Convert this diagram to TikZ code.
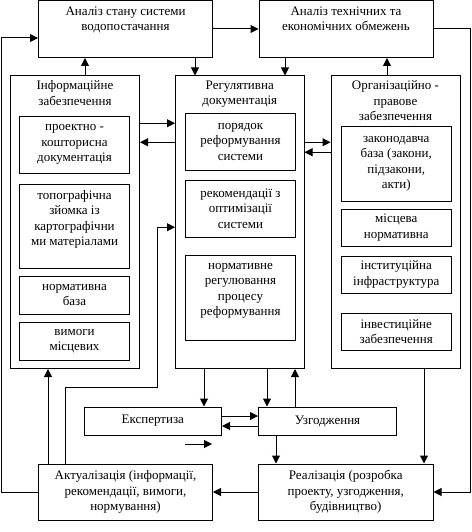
\documentclass[tikz,border=0pt]{standalone}
\usepackage{fontspec}
\setmainfont{Liberation Serif}
\usepackage{tikz}
\usetikzlibrary{arrows.meta, positioning, calc}

\tikzset{
  mainbox/.style={draw, line width=1pt, align=center, minimum width=174pt, minimum height=57pt, inner sep=0pt},
  outerbox/.style={draw, line width=1pt, minimum width=129pt, minimum height=292.5pt, inner sep=0pt},
  innerbox/.style={draw, line width=1pt, align=center, minimum width=110pt, inner sep=0pt},
  titletext/.style={anchor=north, align=center, inner sep=0pt},
  arr/.style={line width=1pt, -{Triangle[length=8pt,width=8pt]}}
}

\begin{document}
\begin{tikzpicture}[x=1pt,y=-1pt, font=\fontsize{13}{15.5}\selectfont]
  \path[use as bounding box] (0,0) rectangle (471,532);

  % top row
  \node[mainbox] (stan) at (125.5,29) {Аналіз стану системи\\водопостачання\\\strut};
  \node[mainbox] (tekh) at (346,29) {Аналіз технічних та\\економічних обмежень\\\strut};

  % Informatsiine zabezpechennia
  \node[outerbox] (info) at (75,222.25) {};
  \node[titletext, below=5pt of info.north] (infot) {Інформаційне\\забезпечення};
  \node[innerbox, minimum height=56.5pt] (inf1) at (74.5,144.75) {проектно -\\кошторисна\\документація};
  \node[innerbox, minimum height=84pt] (inf2) at (74.5,226) {топографічна\\зйомка із\\картографічни\\ми матеріалами\\[-4pt]\strut};
  \node[innerbox, minimum height=38pt] (inf3) at (74.5,295) {нормативна\\база};
  \node[innerbox, minimum height=38pt] (inf4) at (74.5,341) {вимоги\\місцевих};

  % Reguliatyvna dokumentatsiia
  \node[outerbox, minimum width=128.5pt] (reg) at (239.75,222.25) {};
  \node[titletext, below=5pt of reg.north] (regt) {Регулятивна\\документація};
  \node[innerbox, minimum height=56.5pt] (reg1) at (240.5,141.75) {порядок\\реформування\\системи};
  \node[innerbox, minimum height=57pt] (reg2) at (240.5,208.5) {рекомендації з\\оптимізації\\системи};
  \node[innerbox, minimum height=84.5pt] (reg3) at (240.5,297.75) {нормативне\\регулювання\\процесу\\реформування\\[-4pt]\strut};

  % Orhanizatsiino-pravove zabezpechennia
  \node[outerbox] (org) at (395.5,222.25) {};
  \node[titletext, below=5pt of org.north] (orgt) {Організаційно -\\правове\\забезпечення};
  \node[innerbox, minimum width=109.5pt, minimum height=75.5pt] (org1) at (396.25,163.75) {законодавча\\база (закони,\\підзакони,\\акти)};
  \node[innerbox, minimum width=109.5pt, minimum height=37pt] (org2) at (396.25,227.5) {місцева\\нормативна};
  \node[innerbox, minimum width=109.5pt, minimum height=37pt] (org3) at (396.25,274.5) {інституційна\\інфраструктура};
  \node[innerbox, minimum width=109.5pt, minimum height=37pt] (org4) at (396.25,331.5) {інвестиційне\\забезпечення};

  % bottom part
  \node[mainbox, minimum width=137.5pt, minimum height=28pt] (exp) at (152.75,421) {Експертиза};
  \node[mainbox, minimum width=138pt, minimum height=28pt] (uzg) at (327.5,421) {Узгодження};
  \node[mainbox, minimum height=56pt] (akt) at (125.5,492) {Актуалізація (інформації,\\рекомендації, вимоги,\\нормування)};
  \node[mainbox, minimum width=174.5pt, minimum height=56pt] (real) at (345.75,492) {Реалізація (розробка\\проекту, узгодження,\\будівництво)};
  \coordinate (loosea) at (185,444);
  \coordinate (looseb) at (212,444);

  % connectors
  \draw[arr] (stan.east) -- (tekh.west);
  \draw[arr] (akt.west) -- ++(-36.5,0) |- ([yshift=-9pt]stan.west);
  \draw[arr] ([xshift=10pt]info.north) -- ([xshift=10pt]info.north |- stan.south);
  \draw[arr] ([xshift=69.5pt]stan.south) -- ([xshift=69.5pt]stan.south |- reg.north);
  \draw[arr] ([xshift=-61pt]tekh.south) -- ([xshift=-61pt]tekh.south |- reg.north);
  \draw[arr] ([xshift=-8.5pt]org.north) -- ([xshift=-8.5pt]org.north |- tekh.south);
  \draw[arr] (tekh.east) -- ++(37,0) |- (real.east);

  \draw[arr] ([yshift=99pt]info.east) -- ([yshift=99pt]info.east -| reg.west);
  \draw[arr] ([yshift=80pt]reg.west) -- ([yshift=80pt]reg.west -| info.east);
  \draw[arr] ([yshift=80pt]reg.east) -- ([yshift=80pt]reg.east -| org.west);
  \draw[arr] ([yshift=70pt]org.west) -- ([yshift=70pt]org.west -| reg.east);

  \draw[arr] ([xshift=-60.5pt]akt.north) -- ++(0,-76) -- ++(92,0) |- ([yshift=-5pt]reg.west);
  \draw[arr] ([xshift=-77.5pt]akt.north) -- ([xshift=-77.5pt]akt.north |- info.south);

  \draw[arr] ([xshift=-35.75pt]reg.south) -- ([xshift=-35.75pt]reg.south |- exp.north);
  \draw[arr] ([xshift=27.25pt]reg.south) -- ([xshift=27.25pt]reg.south |- uzg.north);
  \draw[arr] ([xshift=-32.5pt]uzg.north) -- ([xshift=-32.5pt]uzg.north |- reg.south);
  \draw[arr] ([yshift=5pt]exp.east) -- ([yshift=5pt]exp.east -| uzg.west);
  \draw[arr] ([yshift=-5pt]uzg.west) -- ([yshift=-5pt]uzg.west -| exp.east);
  \draw[arr] (loosea) -- (looseb);

  \draw[arr] ([xshift=-51.5pt]uzg.south) -- ([xshift=-51.5pt]uzg.south |- real.north);
  \draw[arr] ([xshift=28.5pt]org.south) -- ([xshift=28.5pt]org.south |- real.north);
  \draw[arr] (real.west) -- (akt.east);
\end{tikzpicture}
\end{document}
